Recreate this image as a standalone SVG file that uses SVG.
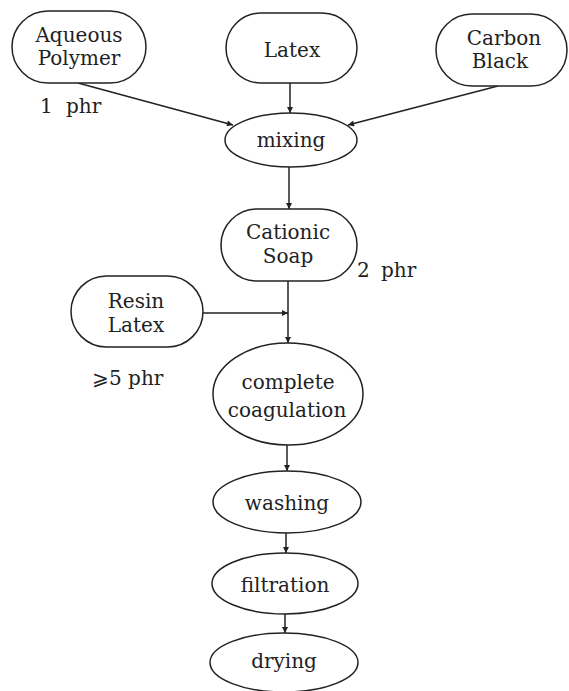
<svg xmlns="http://www.w3.org/2000/svg" width="569" height="691" viewBox="0 0 569 691">
<style>
.n{fill:#fff;stroke:#222;stroke-width:1.5}
.t{font-family:"DejaVu Serif","Liberation Serif",serif;font-size:20px;fill:#222;text-anchor:middle}
.l{font-family:"DejaVu Serif","Liberation Serif",serif;font-size:20px;fill:#222}
.c{fill:none;stroke:#222;stroke-width:1.5}
</style>
<defs>
<marker id="a" viewBox="0 0 10 10" refX="10" refY="5" markerWidth="9" markerHeight="6" markerUnits="userSpaceOnUse" orient="auto">
<path d="M0,0 L10,5 L0,10 z" fill="#222"/>
</marker>
</defs>
<rect width="569" height="691" fill="#fff"/>
<g id="connectors">
<line class="c" x1="78" y1="83" x2="233" y2="125" marker-end="url(#a)"/>
<line class="c" x1="290" y1="83" x2="290" y2="113" marker-end="url(#a)"/>
<line class="c" x1="498" y1="86" x2="348" y2="125" marker-end="url(#a)"/>
<line class="c" x1="289" y1="167" x2="289" y2="209" marker-end="url(#a)"/>
<line class="c" x1="288" y1="281" x2="288" y2="343" marker-end="url(#a)"/>
<line class="c" x1="203" y1="313" x2="288" y2="313" marker-end="url(#a)"/>
<line class="c" x1="287" y1="445" x2="287" y2="471" marker-end="url(#a)"/>
<line class="c" x1="286" y1="533" x2="286" y2="553" marker-end="url(#a)"/>
<line class="c" x1="285" y1="614" x2="285" y2="633" marker-end="url(#a)"/>
</g>
<g id="aqueous-polymer">
<rect class="n" x="12" y="11" width="134" height="72" rx="36"/>
<text class="t" x="79" y="42">Aqueous</text>
<text class="t" x="79" y="65">Polymer</text>
</g>
<g id="label-1phr"><text class="l" x="40" y="113">1</text><text class="l" x="66" y="113">phr</text></g>
<g id="latex">
<rect class="n" x="226" y="13" width="131" height="70" rx="35"/>
<text class="t" x="292" y="57">Latex</text>
</g>
<g id="carbon-black">
<rect class="n" x="436" y="14" width="131" height="72" rx="36"/>
<text class="t" x="504" y="45">Carbon</text>
<text class="t" x="500" y="68">Black</text>
</g>
<g id="mixing">
<ellipse class="n" cx="291" cy="140" rx="66" ry="27"/>
<text class="t" x="291" y="147">mixing</text>
</g>
<g id="cationic-soap">
<rect class="n" x="221" y="209" width="136" height="72" rx="36"/>
<text class="t" x="288" y="239">Cationic</text>
<text class="t" x="288" y="263">Soap</text>
</g>
<g id="label-2phr"><text class="l" x="357" y="277">2</text><text class="l" x="381" y="277">phr</text></g>
<g id="resin-latex">
<rect class="n" x="71" y="276" width="132" height="71" rx="35.5"/>
<text class="t" x="136" y="308">Resin</text>
<text class="t" x="136" y="332">Latex</text>
</g>
<g id="label-5phr"><text class="l" x="92" y="385">⩾5 phr</text></g>
<g id="complete-coagulation">
<ellipse class="n" cx="288" cy="394" rx="75" ry="51"/>
<text class="t" x="288" y="389">complete</text>
<text class="t" x="287" y="417">coagulation</text>
</g>
<g id="washing">
<ellipse class="n" cx="287" cy="502" rx="74" ry="31"/>
<text class="t" x="287" y="510">washing</text>
</g>
<g id="filtration">
<ellipse class="n" cx="285" cy="583.5" rx="73" ry="30.5"/>
<text class="t" x="285" y="592">filtration</text>
</g>
<g id="drying">
<ellipse class="n" cx="284" cy="662.5" rx="74" ry="29.5"/>
<text class="t" x="284" y="668">drying</text>
</g>
</svg>
